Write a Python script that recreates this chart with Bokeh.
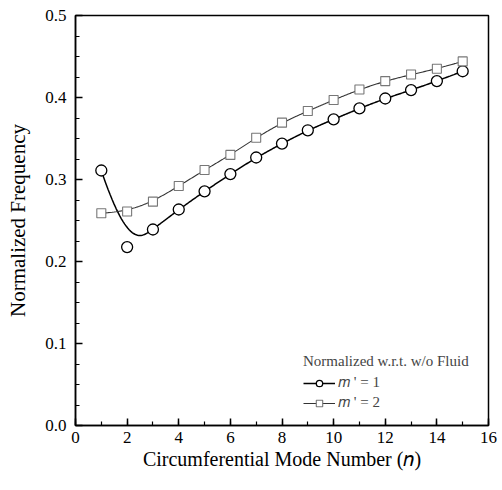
import numpy as np
from bokeh.plotting import figure
from bokeh.models import FixedTicker, Legend, LegendItem, Range1d
from bokeh.embed import file_html
from bokeh.resources import INLINE

# Data
n_vals = [1, 2, 3, 4, 5, 6, 7, 8, 9, 10, 11, 12, 13, 14, 15]
m1_vals = [0.311, 0.2176, 0.239, 0.2634, 0.2856, 0.3066, 0.3268, 0.3438,
           0.360, 0.3734, 0.3867, 0.3988, 0.409, 0.420, 0.432]
m2_vals = [0.2589, 0.261, 0.273, 0.292, 0.3115, 0.330, 0.351, 0.3693,
           0.3835, 0.397, 0.4098, 0.420, 0.428, 0.435, 0.444]
x_ticks = [0, 2, 4, 6, 8, 10, 12, 14, 16]
y_ticks = [0.0, 0.1, 0.2, 0.3, 0.4, 0.5]
legend_title = "Normalized w.r.t. w/o Fluid"
labels = ["\U0001D45A ' = 1", "\U0001D45A ' = 2"]

FONT = "Liberation Serif"


def bspline(xs, ys, samples=400):
    """Clamped cubic B-spline using the data as control points (Origin-style)."""
    P = np.column_stack([xs, ys]).astype(float)
    n = len(P)
    k = 3
    inner = np.arange(1, n - k)
    knots = np.concatenate([np.zeros(k + 1), inner, np.full(k + 1, n - k)]).astype(float)
    t = np.linspace(0, n - k, samples)
    t[-1] -= 1e-9
    N = np.zeros((samples, len(knots) - 1))
    for i in range(len(knots) - 1):
        N[:, i] = np.where((t >= knots[i]) & (t < knots[i + 1]), 1.0, 0.0)
    for d in range(1, k + 1):
        Nn = np.zeros((samples, len(knots) - 1 - d))
        for i in range(len(knots) - 1 - d):
            a = np.zeros(samples)
            b = np.zeros(samples)
            den1 = knots[i + d] - knots[i]
            den2 = knots[i + d + 1] - knots[i + 1]
            if den1 > 0:
                a = (t - knots[i]) / den1 * N[:, i]
            if den2 > 0:
                b = (knots[i + d + 1] - t) / den2 * N[:, i + 1]
            Nn[:, i] = a + b
        N = Nn
    C = N @ P
    return C[:, 0], C[:, 1]


p = figure(width=500, height=488, output_backend="svg", toolbar_location=None,
           x_range=Range1d(0, 16), y_range=Range1d(0, 0.5),
           min_border_left=75, min_border_right=12, min_border_top=15,
           min_border_bottom=63)
p.grid.visible = False
p.outline_line_color = "black"
p.outline_line_width = 1.5
p.background_fill_color = "white"
p.border_fill_color = "white"

for ax in (p.xaxis[0], p.yaxis[0]):
    ax.axis_line_width = 1.5
    ax.axis_line_color = "black"
    ax.major_tick_in = 7
    ax.major_tick_out = 0
    ax.minor_tick_in = 4
    ax.minor_tick_out = 0
    ax.major_tick_line_width = 1.5
    ax.minor_tick_line_width = 1.2
    ax.major_label_text_font = FONT
    ax.major_label_text_font_size = "17px"
    ax.major_label_text_color = "black"
    ax.axis_label_text_font = FONT
    ax.axis_label_text_font_style = "normal"
    ax.axis_label_text_color = "black"

p.xaxis.ticker = FixedTicker(ticks=x_ticks, minor_ticks=list(range(0, 17)))
p.yaxis.ticker = FixedTicker(ticks=y_ticks,
                             minor_ticks=[i * 0.025 for i in range(21)])
p.yaxis.major_label_overrides = {v: f"{v:.1f}" for v in y_ticks}
p.xaxis.major_label_standoff = 6
p.yaxis.major_label_standoff = 9
p.xaxis.axis_label = "Circumferential Mode Number (\U0001D45B)"
p.yaxis.axis_label = "Normalized Frequency"
p.xaxis.axis_label_text_font_size = "20px"
p.yaxis.axis_label_text_font_size = "21px"
p.xaxis.axis_label_standoff = 2
p.yaxis.axis_label_standoff = 12

cx, cy = bspline(n_vals, m1_vals)
sx, sy = bspline(n_vals, m2_vals)

l1 = p.line(cx, cy, line_color="black", line_width=1.5)
l2 = p.line(sx, sy, line_color="#333333", line_width=1.1)
c1 = p.scatter(n_vals, m1_vals, marker="circle", size=11, fill_color="white",
               line_color="black", line_width=1.3)
c2 = p.scatter(n_vals, m2_vals, marker="square", size=9, fill_color="white",
               line_color="#777777", line_width=1.1)

legend = Legend(items=[LegendItem(label=labels[0], renderers=[l1, c1]),
                       LegendItem(label=labels[1], renderers=[l2, c2])],
                location=(228, 14), title=legend_title,
                title_text_font=FONT, title_text_font_size="15px",
                title_text_font_style="normal", title_standoff=4,
                label_text_font=FONT, label_text_font_size="15px",
                glyph_width=32, glyph_height=16, label_standoff=3,
                spacing=3, padding=0, margin=0,
                border_line_alpha=0, background_fill_alpha=0)
p.add_layout(legend)

open("out.html", "w").write(file_html(p, INLINE))
